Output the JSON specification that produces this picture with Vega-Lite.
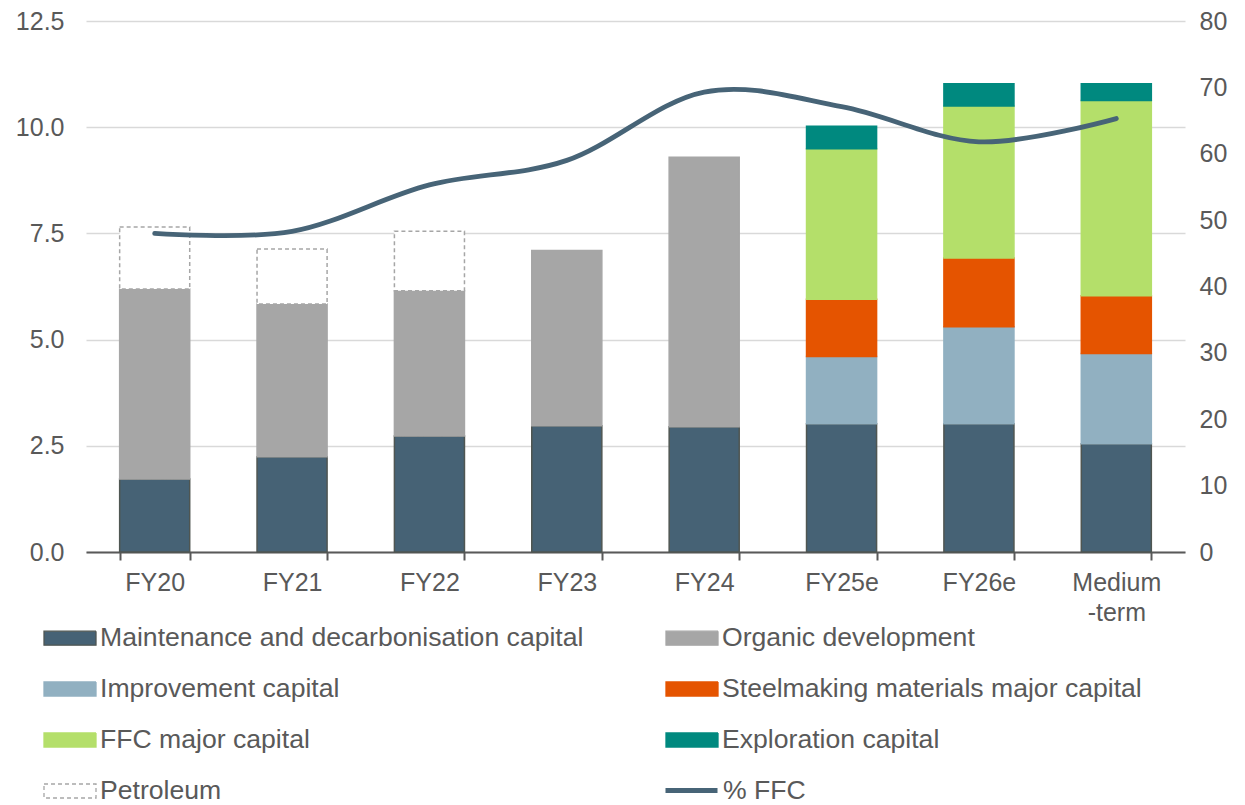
{
  "$schema": "https://vega.github.io/schema/vega-lite/v6.json",
  "width": 1099,
  "height": 531,
  "autosize": {"type": "none"},
  "padding": {"left": 86, "top": 21, "right": 60, "bottom": 253},
  "background": "white",
  "config": {
    "view": {"stroke": null},
    "font": "Liberation Sans",
    "axis": {"labelFont": "Liberation Sans", "labelColor": "#595959", "labelFontSize": 25, "title": null},
    "legend": {
      "orient": "none", "direction": "horizontal", "columns": 2,
      "title": null, "padding": 0,
      "symbolType": "M-1,-0.27H1V0.27H-1Z", "symbolSize": 2704, "symbolStrokeWidth": 1.3,
      "labelFont": "Liberation Sans", "labelFontSize": 26.6, "labelColor": "#595959", "labelOffset": 3,
      "labelLimit": 800, "columnPadding": 79, "rowPadding": 10
    }
  },
  "layer": [
    {
      "data": {
        "values": [
          {"cat": "FY20", "series": "Maintenance and decarbonisation capital", "value": 1.72},
          {"cat": "FY20", "series": "Organic development", "value": 4.47},
          {"cat": "FY20", "series": "Petroleum", "value": 1.46},
          {"cat": "FY21", "series": "Maintenance and decarbonisation capital", "value": 2.24},
          {"cat": "FY21", "series": "Organic development", "value": 3.60},
          {"cat": "FY21", "series": "Petroleum", "value": 1.29},
          {"cat": "FY22", "series": "Maintenance and decarbonisation capital", "value": 2.73},
          {"cat": "FY22", "series": "Organic development", "value": 3.42},
          {"cat": "FY22", "series": "Petroleum", "value": 1.40},
          {"cat": "FY23", "series": "Maintenance and decarbonisation capital", "value": 2.97},
          {"cat": "FY23", "series": "Organic development", "value": 4.13},
          {"cat": "FY24", "series": "Maintenance and decarbonisation capital", "value": 2.95},
          {"cat": "FY24", "series": "Organic development", "value": 6.34},
          {"cat": "FY25e", "series": "Maintenance and decarbonisation capital", "value": 3.02},
          {"cat": "FY25e", "series": "Improvement capital", "value": 1.58},
          {"cat": "FY25e", "series": "Steelmaking materials major capital", "value": 1.35},
          {"cat": "FY25e", "series": "FFC major capital", "value": 3.54},
          {"cat": "FY25e", "series": "Exploration capital", "value": 0.53},
          {"cat": "FY26e", "series": "Maintenance and decarbonisation capital", "value": 3.02},
          {"cat": "FY26e", "series": "Improvement capital", "value": 2.28},
          {"cat": "FY26e", "series": "Steelmaking materials major capital", "value": 1.62},
          {"cat": "FY26e", "series": "FFC major capital", "value": 3.58},
          {"cat": "FY26e", "series": "Exploration capital", "value": 0.52},
          {"cat": "Medium-term", "series": "Maintenance and decarbonisation capital", "value": 2.55},
          {"cat": "Medium-term", "series": "Improvement capital", "value": 2.12},
          {"cat": "Medium-term", "series": "Steelmaking materials major capital", "value": 1.36},
          {"cat": "Medium-term", "series": "FFC major capital", "value": 4.60},
          {"cat": "Medium-term", "series": "Exploration capital", "value": 0.39}
        ]
      },
      "transform": [
        {"calculate": "indexof(['Maintenance and decarbonisation capital', 'Organic development', 'Improvement capital', 'Steelmaking materials major capital', 'FFC major capital', 'Exploration capital', 'Petroleum'], datum.series)", "as": "rank"}
      ],
      "mark": {"type": "bar", "strokeWidth": 1.5},
      "encoding": {
        "x": {
          "field": "cat", "type": "nominal",
          "sort": ["FY20", "FY21", "FY22", "FY23", "FY24", "FY25e", "FY26e", "Medium-term"],
          "scale": {"paddingInner": 0.49, "paddingOuter": 0.245},
          "axis": {
            "labelAngle": 0, "grid": false, "tickBand": "extent", "tickSize": 8, "tickWidth": 2,
            "tickColor": "#595959", "domainColor": "#595959", "domainWidth": 2,
            "labelPadding": 10, "labelBaseline": "top", "labelLineHeight": 30,
            "labelExpr": "datum.value === 'Medium-term' ? ['Medium', '-term'] : datum.value"
          }
        },
        "y": {
          "field": "value", "type": "quantitative", "stack": "zero",
          "scale": {"domain": [0, 12.5], "nice": false},
          "axis": {
            "values": [0, 2.5, 5, 7.5, 10, 12.5], "format": ".1f", "domain": false, "ticks": false,
            "labelPadding": 22, "gridColor": "#d9d9d9", "gridWidth": 1.5
          }
        },
        "order": {"field": "rank", "type": "quantitative", "sort": "ascending"},
        "color": {
          "field": "series", "type": "nominal",
          "scale": {
            "domain": ["Maintenance and decarbonisation capital", "Organic development", "Improvement capital", "Steelmaking materials major capital", "FFC major capital", "Exploration capital", "Petroleum"],
            "range": ["#466275", "#a6a6a6", "#91b0c1", "#e55400", "#b4df6a", "#00897f", "#ffffff"]
          },
          "legend": {"legendX": -43, "legendY": 590}
        },
        "stroke": {
          "field": "series", "type": "nominal",
          "scale": {
            "domain": ["Maintenance and decarbonisation capital", "Organic development", "Improvement capital", "Steelmaking materials major capital", "FFC major capital", "Exploration capital", "Petroleum"],
            "range": ["#4f5652", "#a6a6a6", "#91b0c1", "#e55400", "#b4df6a", "#00897f", "#a6a6a6"]
          },
          "legend": {"legendX": -43, "legendY": 590}
        },
        "strokeDash": {
          "field": "series", "type": "nominal",
          "scale": {
            "domain": ["Maintenance and decarbonisation capital", "Organic development", "Improvement capital", "Steelmaking materials major capital", "FFC major capital", "Exploration capital", "Petroleum"],
            "range": [[1, 0], [1, 0], [1, 0], [1, 0], [1, 0], [1, 0], [4, 3]]
          },
          "legend": {"legendX": -43, "legendY": 590}
        }
      }
    },
    {
      "data": {
        "values": [
          {"cat": "FY20", "pct": 48.0},
          {"cat": "FY21", "pct": 48.3},
          {"cat": "FY22", "pct": 55.3},
          {"cat": "FY23", "pct": 59.0},
          {"cat": "FY24", "pct": 69.3},
          {"cat": "FY25e", "pct": 67.1},
          {"cat": "FY26e", "pct": 61.8},
          {"cat": "Medium-term", "pct": 65.3}
        ]
      },
      "mark": {"type": "line", "interpolate": "cardinal", "strokeCap": "round", "color": "#476477"},
      "encoding": {
        "x": {"field": "cat", "type": "nominal", "sort": ["FY20", "FY21", "FY22", "FY23", "FY24", "FY25e", "FY26e", "Medium-term"]},
        "y": {
          "field": "pct", "type": "quantitative",
          "scale": {"domain": [0, 80], "nice": false},
          "axis": {
            "orient": "right", "values": [0, 10, 20, 30, 40, 50, 60, 70, 80], "grid": false,
            "domain": false, "ticks": false, "labelPadding": 14
          }
        },
        "strokeWidth": {
          "datum": "% FFC", "type": "nominal",
          "scale": {"type": "point", "range": [4.8, 4.8]},
          "legend": {"legendX": 577, "legendY": 741, "symbolType": "stroke", "columns": 1}
        }
      }
    }
  ],
  "resolve": {"scale": {"y": "independent"}}
}
